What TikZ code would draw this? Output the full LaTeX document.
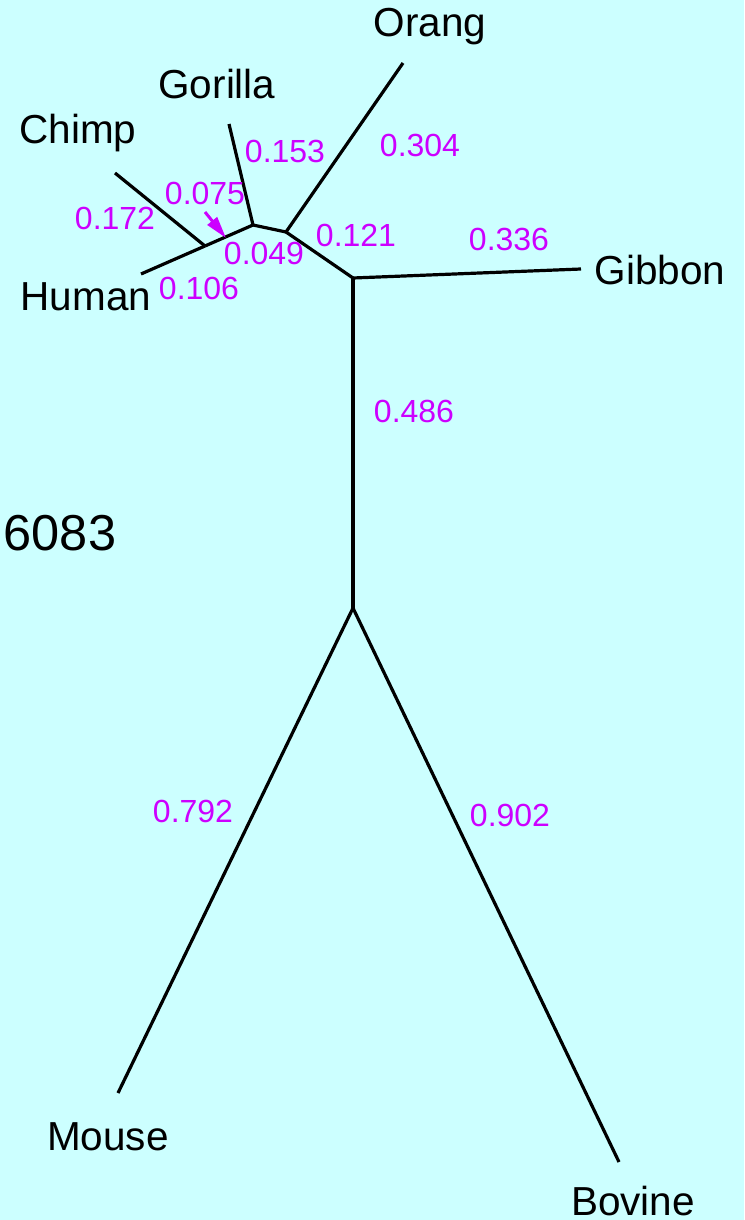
\documentclass[tikz,border=0pt]{standalone}
\usepackage{fontspec}
\setmainfont{Liberation Sans}
\usetikzlibrary{arrows.meta}
\definecolor{bgc}{RGB}{204,255,255}
\definecolor{numc}{RGB}{204,0,255}
\begin{document}
\begin{tikzpicture}[x=1pt,y=-1pt,
  branch/.style={line width=3.2pt},
  taxon/.style={font=\fontsize{40.5}{43}\selectfont, inner sep=0pt},
  num/.style={font=\fontsize{32}{34}\selectfont, text=numc, inner sep=0pt},
  pt/.style={inner sep=0pt, minimum size=0pt}]
\fill[bgc] (0,0) rectangle (744,1220);
\useasboundingbox (0,0) rectangle (744,1220);
% internal nodes
\coordinate (hc) at (205,246);
\coordinate (hcg) at (253,225);
\coordinate (go) at (286,232);
\coordinate (og) at (353,278);
\coordinate (root) at (353,608);
% tips
\coordinate (chimp) at (115,173);
\coordinate (human) at (141,274);
\coordinate (gorilla) at (229,124);
\coordinate (orang) at (403,63);
\coordinate (gibbon) at (581,269);
\coordinate (mouse) at (118,1093);
\coordinate (bovine) at (619,1162);
% branches
\draw[branch] (chimp) -- (hc);
\draw[branch] (human) -- (hc);
\draw[branch] (hc) -- (hcg);
\draw[branch] (gorilla) -- (hcg);
\draw[branch] (hcg) -- (go);
\draw[branch] (orang) -- (go);
\draw[branch] (go) -- (og);
\draw[branch] (gibbon) -- (og);
\draw[branch] (og) -- (root);
\draw[branch] (mouse) -- (root);
\draw[branch] (bovine) -- (root);
% taxon labels
\node[taxon] (lorang) at (430,27) {Orang};
\node[taxon] (lgorilla) at (217,84) {Gorilla};
\node[taxon] (lchimp) at (78,133) {Chimp};
\node[taxon] (lhuman) at (86,297) {Human};
\node[taxon] (lgibbon) at (660,270) {Gibbon};
\node[taxon] (lmouse) at (108,1137) {Mouse};
\node[taxon] (lbovine) at (633,1201) {Bovine};
\node[font=\fontsize{50.5}{53}\selectfont, inner sep=0pt] (title) at (60,533) {6083};
% branch lengths
\node[num] (n153) at (285,151) {0.153};
\node[num] (n304) at (420,145) {0.304};
\node[num] (n075) at (205,193) {0.075};
\node[num] (n172) at (115,218) {0.172};
\node[num] (n121) at (356,235) {0.121};
\node[num] (n336) at (509,239) {0.336};
\node[num] (n049) at (264,253) {0.049};
\node[num] (n106) at (199,288) {0.106};
\node[num] (n486) at (414,411) {0.486};
\node[num] (n792) at (193,811) {0.792};
\node[num] (n902) at (510,815) {0.902};
% arrow
\coordinate (atail) at (205,212);
\coordinate (ahead) at (226,238);
\draw[numc, line width=3pt, -{Triangle[length=22pt,width=12pt]}] (atail) -- (ahead);
\end{tikzpicture}
\end{document}
